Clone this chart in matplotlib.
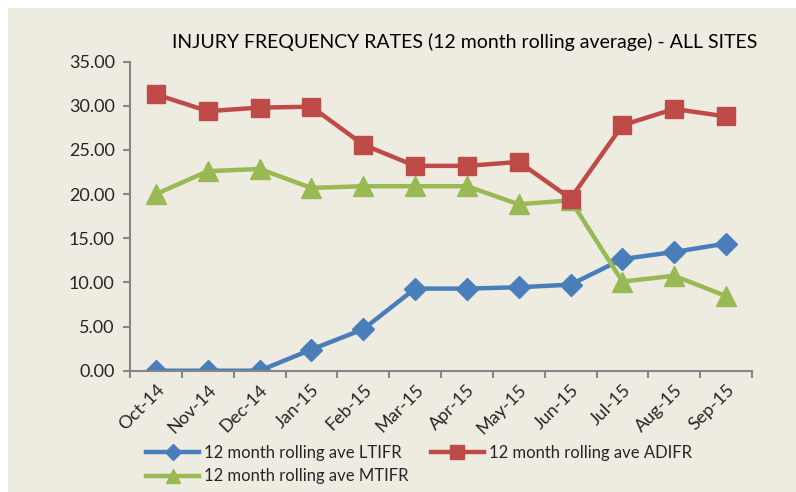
import matplotlib
matplotlib.use("Agg")
import matplotlib.pyplot as plt
from matplotlib.patches import Rectangle
from matplotlib.ticker import FixedLocator

months = ['Oct-14', 'Nov-14', 'Dec-14', 'Jan-15', 'Feb-15', 'Mar-15',
          'Apr-15', 'May-15', 'Jun-15', 'Jul-15', 'Aug-15', 'Sep-15']
ltifr = [0.0, 0.0, 0.0, 2.4, 4.7, 9.3, 9.3, 9.45, 9.75, 12.65, 13.45, 14.4]
adifr = [31.3, 29.4, 29.8, 29.9, 25.6, 23.2, 23.2, 23.65, 19.5, 27.8, 29.65, 28.8]
mtifr = [20.0, 22.6, 22.85, 20.7, 20.9, 20.9, 20.9, 18.85, 19.3, 10.1, 10.75, 8.45]

plt.rcParams['font.family'] = ['Lato', 'DejaVu Sans']

bg = '#EEEBE1'
axcol = '#868686'
txt = '#262626'

fig = plt.figure(figsize=(7.96, 4.92), dpi=100)
fig.patch.set_facecolor('white')
fig.patches.append(Rectangle((8 / 796, 0), 1, 1 - 8 / 492, transform=fig.transFigure,
                             facecolor=bg, edgecolor='none', zorder=-10))

ax = fig.add_axes([130 / 796, 1 - 370.7 / 492, 622 / 796, 309 / 492])
ax.set_facecolor(bg)

x = list(range(len(months)))
ax.plot(x, ltifr, color='#4A7EBB', lw=3.2, marker='D', ms=11, label='12 month rolling ave LTIFR')
ax.plot(x, mtifr, color='#98B954', lw=3.2, marker='^', ms=14, label='12 month rolling ave MTIFR')
ax.plot(x, adifr, color='#BE4B48', lw=3.2, marker='s', ms=13, label='12 month rolling ave ADIFR')

ax.set_xlim(-0.5, len(months) - 0.5)
ax.set_ylim(0, 35)
ax.set_yticks([0, 5, 10, 15, 20, 25, 30, 35])
ax.set_yticklabels([f'{v:.2f}' for v in [0, 5, 10, 15, 20, 25, 30, 35]])

# tick marks between categories, labels at category centres
ax.xaxis.set_major_locator(FixedLocator([i - 0.5 for i in range(len(months) + 1)]))
ax.xaxis.set_minor_locator(FixedLocator(x))
ax.set_xticklabels([''] * (len(months) + 1))
ax.set_xticklabels(months, minor=True, rotation=45, ha='right', rotation_mode='anchor')
ax.tick_params(axis='x', which='minor', length=0, pad=8, labelsize=13, labelcolor=txt)
ax.tick_params(axis='x', which='major', length=5, width=1.5, color=axcol)
ax.tick_params(axis='y', length=5, width=1.5, color=axcol, labelsize=13, labelcolor=txt, pad=6)

for s in ['top', 'right']:
    ax.spines[s].set_visible(False)
for s in ['left', 'bottom']:
    ax.spines[s].set_color(axcol)
    ax.spines[s].set_linewidth(1.5)

fig.text(465 / 796, 1 - 42 / 492, 'INJURY FREQUENCY RATES (12 month rolling average) - ALL SITES',
         ha='center', va='center', fontsize=14, color='black')

leg = ax.legend(loc='upper left', bbox_to_anchor=(146 / 796, 1 - 445 / 492),
                bbox_transform=fig.transFigure, ncol=2, frameon=False,
                fontsize=12, handlelength=3.2, handletextpad=0.3, columnspacing=1.3,
                labelspacing=0.45, borderaxespad=0, borderpad=0, markerscale=0.75)
for t in leg.get_texts():
    t.set_color(txt)

fig.savefig('out.png', dpi=100, facecolor=fig.get_facecolor())
